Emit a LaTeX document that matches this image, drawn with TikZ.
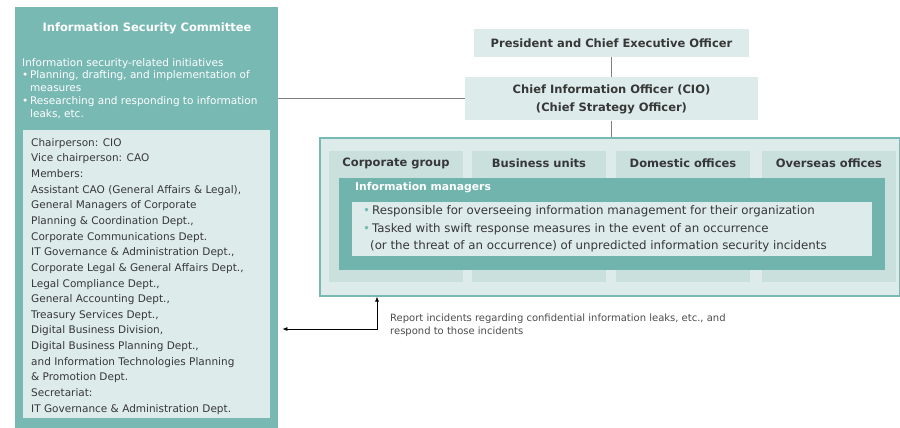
\documentclass[tikz,border=0pt]{standalone}
\usepackage{fontspec}
\setmainfont{DejaVu Sans}
\usepackage{xcolor}
\usetikzlibrary{arrows.meta,positioning}
\definecolor{teal1}{RGB}{120,185,180}
\definecolor{tealdk}{RGB}{112,180,173}
\definecolor{palebg}{RGB}{221,236,234}
\definecolor{colbg}{RGB}{201,224,221}
\definecolor{inktext}{RGB}{55,55,55}
\newcommand{\dotmark}{{\color{teal1}\textbullet}\,}

\begin{document}
\begin{tikzpicture}[x=1pt,y=-1pt,>={Latex[length=5pt,width=4pt]},
      panel/.style={fill=teal1,anchor=north west,inner sep=0pt},
      pale/.style={fill=palebg,anchor=north west,inner sep=0pt},
      role/.style={fill=palebg,align=center,text=inktext,inner sep=0pt,
                   font=\bfseries\fontsize{11.5}{18}\selectfont},
      unitcol/.style={fill=colbg,anchor=north west,inner sep=0pt,
                      minimum width=134,minimum height=131},
      unithead/.style={text=inktext,font=\bfseries\fontsize{11.5}{14}\selectfont},
      body/.style={anchor=north west,align=left,inner sep=0pt,text=inktext},
      link/.style={draw=black!50,line width=0.8pt}]
    \useasboundingbox (0,0) rectangle (900,428);
    % committee panel
    \node[panel,minimum width=263,minimum height=421] (isc) at (15,7) {};
    \node[text=white,font=\bfseries\fontsize{11.5}{14}\selectfont] (isctitle) at (147,28)
      {Information Security Committee};
    \node[body,text=white,font=\fontsize{10.5}{12.8}\selectfont] (iscaims) at (22,58)
      {Information security-related initiatives\\
       \textbullet\,Planning, drafting, and implementation of\\
       \hphantom{\textbullet\,}measures\\
       \textbullet\,Researching and responding to information\\
       \hphantom{\textbullet\,}leaks, etc.};
    \node[pale,minimum width=247,minimum height=288] (members) at (23,130) {};
    \node[body,font=\fontsize{10.5}{15.65}\selectfont] (memberlist) at (31,138)
      {Chairperson: CIO\\
       Vice chairperson: CAO\\
       Members:\\
       Assistant CAO (General Affairs \& Legal),\\
       General Managers of Corporate\\
       Planning \& Coordination Dept.,\\
       Corporate Communications Dept.\\
       IT Governance \& Administration Dept.,\\
       Corporate Legal \& General Affairs Dept.,\\
       Legal Compliance Dept.,\\
       General Accounting Dept.,\\
       Treasury Services Dept.,\\
       Digital Business Division,\\
       Digital Business Planning Dept.,\\
       and Information Technologies Planning\\
       \& Promotion Dept.\\
       Secretariat:\\
       IT Governance \& Administration Dept.};
    % officers
    \node[role,minimum width=275,minimum height=28] (ceo) at (611.5,43)
      {President and Chief Executive Officer};
    \node[role,minimum width=293,minimum height=43,below=20pt of ceo] (cio)
      {Chief Information Officer (CIO)\\(Chief Strategy Officer)};
    % organizational units
    \node[anchor=north west,fill=palebg,draw=teal1,line width=1.5pt,inner sep=0pt,
          minimum width=580,minimum height=158] (units) at (319,137) {};
    \foreach \x/\name/\lab in {329/corp/Corporate group,472/biz/Business units,
                               616/dom/Domestic offices,762/ovs/Overseas offices}{
      \node[unitcol] (\name) at (\x,151) {};
      \node[unithead] (\name-head) at (\x+67,163) {\lab};
    }
    \node[anchor=north west,fill=tealdk,inner sep=0pt,
          minimum width=546,minimum height=92] (mgrs) at (339,178) {};
    \node[anchor=west,text=white,inner sep=0pt,
          font=\bfseries\fontsize{10.8}{13}\selectfont] (mgrtitle) at (355,188)
      {Information managers};
    \node[pale,minimum width=520,minimum height=54] (mgrduties) at (352,202) {};
    \node[body,font=\fontsize{11.8}{17.5}\selectfont] (mgrtext) at (363,205.5)
      {\dotmark Responsible for overseeing information management for their organization\\
       \dotmark Tasked with swift response measures in the event of an occurrence\\
       \hphantom{\textbullet}(or the threat of an occurrence) of unpredicted information security incidents};
    % connectors
    \draw[link] (ceo) -- (cio);
    \draw[link] (cio) -- (cio |- units.north);
    \draw[link] (isc.east |- cio.west) -- (cio.west);
    \coordinate (elbow) at (377,329);
    \draw[<->,line width=0.8pt,shorten <=4pt] (isc.east |- elbow) -- (elbow) -- (elbow |- units.south);
    \node[body,text=black!70,font=\fontsize{10}{13}\selectfont] (reportnote) at (390,314)
      {Report incidents regarding confidential information leaks, etc., and\\
       respond to those incidents};
  \end{tikzpicture}
\end{document}
